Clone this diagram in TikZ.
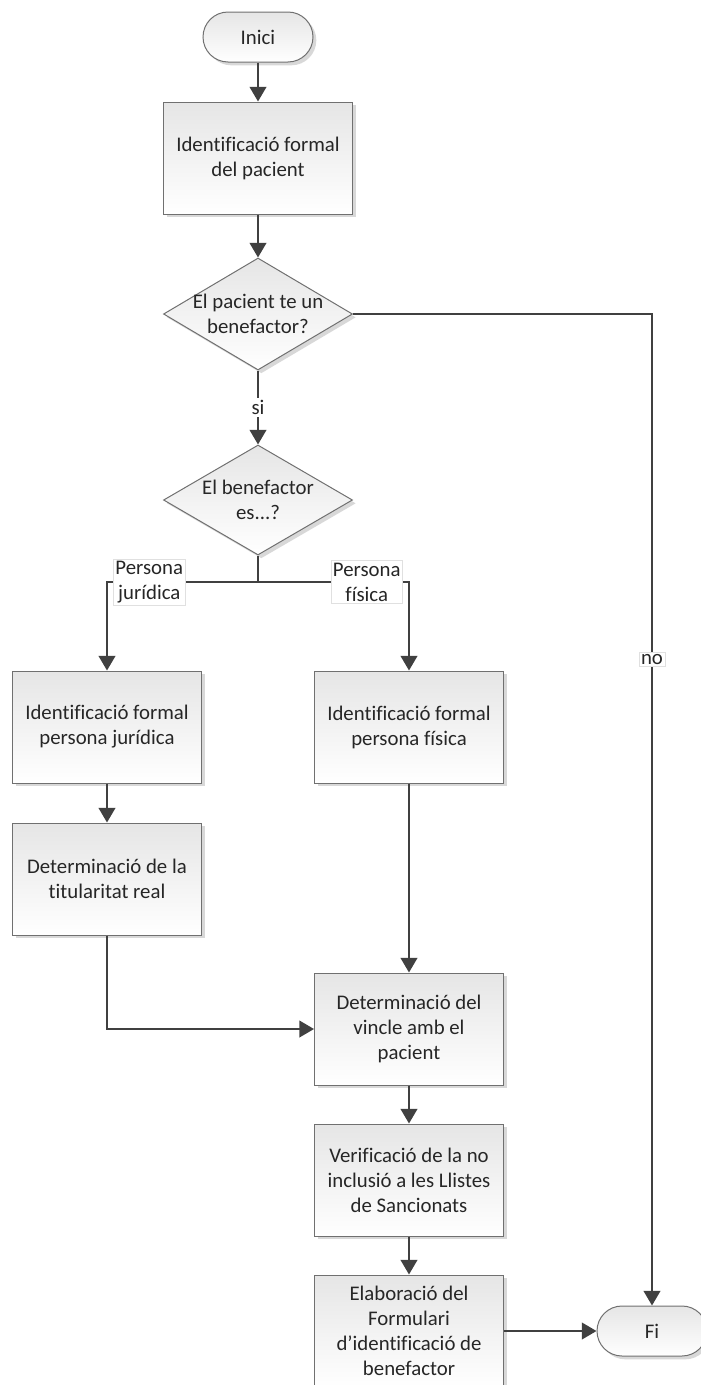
\documentclass[tikz,border=0pt]{standalone}
\usepackage{fontspec}
\setmainfont{Carlito}[Ligatures=NoCommon]
\usetikzlibrary{shapes.geometric,shadows,arrows.meta}
\definecolor{linegray}{HTML}{404040}
\definecolor{framegray}{HTML}{707070}
\definecolor{textgray}{HTML}{262626}

\begin{document}
\begin{tikzpicture}[x=0.75pt, y=-0.75pt,
    every node/.style={font=\fontsize{15.6}{18.8}\selectfont, text=textgray, align=center},
    shapeshade/.style={draw=framegray, line width=0.75pt, top color=black!10, bottom color=white,
      drop shadow={shadow xshift=2.5pt, shadow yshift=-2.5pt, fill=black!30, opacity=0.5}},
    process/.style={shapeshade, rectangle, minimum width=141.75pt, minimum height=84pt, inner sep=0pt},
    terminal/.style={shapeshade, rectangle, rounded corners=18.75pt, minimum width=82.5pt, minimum height=37.5pt},
    decision/.style={shapeshade, diamond, minimum width=141.75pt, minimum height=84pt, inner sep=0pt},
    flow/.style={draw=linegray, line width=1.5pt},
    arr/.style={flow, -{Triangle[length=11pt, width=12.5pt]}},
    tag/.style={fill=white, draw=black!12, line width=0.5pt, inner sep=1.5pt}]
  \useasboundingbox (0,0) rectangle (700,1385);

  % main column
  \node[terminal] (start) at (258,37) {Inici};
  \node[process] (idpac) at (258,158) {Identificació formal\\del pacient};
  \node[decision] (q1) at (258,314) {};
  \node (q1txt) at (q1) {El pacient te un\\benefactor?};
  \node[decision, minimum height=82.5pt] (q2) at (258,500) {};
  \node (q2txt) at (q2) {El benefactor\\es...?};

  % branches
  \coordinate (split) at (258,582);
  \node[process] (idjur) at (107,727) {Identificació formal\\persona jurídica};
  \node[process] (titul) at (107,879) {Determinació de la\\titularitat real};
  \node[process] (idfis) at (409,727) {Identificació formal\\persona física};
  \node[process] (vincle) at (409,1029) {Determinació del\\vincle amb el\\pacient};
  \node[process] (verif) at (409,1180) {Verificació de la no\\inclusió a les Llistes\\de Sancionats};
  \node[process] (formu) at (409,1331) {Elaboració del\\Formulari\\d’identificació de\\benefactor};
  \node[terminal] (fi) at (652,1331) {Fi};

  % connectors
  \draw[arr] (start) -- (idpac);
  \draw[arr] (idpac) -- (q1);
  \draw[arr] (q1) -- node[tag, draw=none] {si} (q2);
  \draw[flow] (q2.south) -- (split);
  \draw[arr] (split) -| node[tag, pos=0.36] {Persona\\jurídica} (idjur.north);
  \draw[arr] (split) -| node[tag, pos=0.36] {Persona\\física} (idfis.north);
  \draw[arr] (idjur) -- (titul);
  \draw[arr] (titul.south) |- (vincle.west);
  \draw[arr] (idfis) -- (vincle);
  \draw[arr] (vincle) -- (verif);
  \draw[arr] (verif) -- (formu);
  \draw[arr] (formu) -- (fi);
  \draw[arr] (q1.east) -| node[tag, pos=0.674] {no} (fi.north);
\end{tikzpicture}
\end{document}
